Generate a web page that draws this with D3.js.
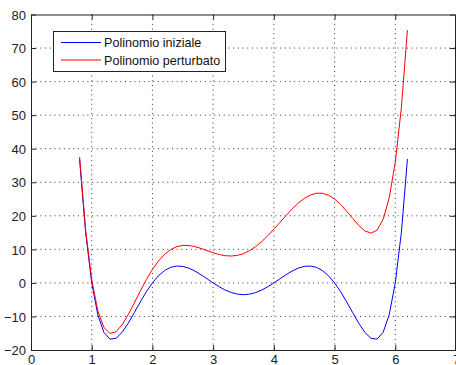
<!DOCTYPE html>
<html>
<head>
<meta charset="utf-8">
<script src="https://cdn.jsdelivr.net/npm/d3@7"></script>
<style>
  html, body { margin: 0; padding: 0; background: #fff; }
  svg { display: block; }
  text { font-family: "Liberation Sans", Arial, sans-serif; }
</style>
</head>
<body>
<svg id="chart" width="456" height="365"></svg>
<script>
// Sample points x = 0.8 : 0.1 : 6.2
const xs = [0.8, 0.9, 1.0, 1.1, 1.2, 1.3, 1.4, 1.5, 1.6, 1.7, 1.8, 1.9, 2.0,
  2.1, 2.2, 2.3, 2.4, 2.5, 2.6, 2.7, 2.8, 2.9, 3.0, 3.1, 3.2, 3.3, 3.4, 3.5,
  3.6, 3.7, 3.8, 3.9, 4.0, 4.1, 4.2, 4.3, 4.4, 4.5, 4.6, 4.7, 4.8, 4.9, 5.0,
  5.1, 5.2, 5.3, 5.4, 5.5, 5.6, 5.7, 5.8, 5.9, 6.0, 6.1, 6.2];

// Initial polynomial values
const initial = [36.90, 14.97, 0, -9.48, -14.71, -16.76, -16.53, -14.77, -12.06,
  -8.91, -5.68, -2.64, 0, 2.13, 3.68, 4.64, 5.03, 4.92, 4.39, 3.52, 2.43, 1.22,
  0, -1.15, -2.13, -2.88, -3.35, -3.52, -3.35, -2.88, -2.13, -1.15, 0, 1.22,
  2.43, 3.52, 4.39, 4.92, 5.03, 4.64, 3.68, 2.13, 0, -2.64, -5.68, -8.91,
  -12.06, -14.77, -16.53, -16.76, -14.71, -9.48, 0, 14.97, 36.90];

// Perturbed polynomial values
const perturbed = [37.54, 15.78, 1.00, -8.27, -13.27, -15.07, -14.57, -12.52,
  -9.50, -6.02, -2.44, 0.97, 4.00, 6.54, 8.52, 9.93, 10.79, 11.17, 11.15, 10.81,
  10.27, 9.63, 9.00, 8.46, 8.11, 8.01, 8.21, 8.73, 9.61, 10.81, 12.31, 14.06,
  16.00, 18.03, 20.07, 22.01, 23.75, 25.17, 26.19, 26.73, 26.72, 26.14, 25.00,
  23.37, 21.36, 19.18, 17.10, 15.48, 14.83, 15.73, 18.93, 25.33, 36.00, 52.18,
  75.34];

const xTicks = [0, 1, 2, 3, 4, 5, 6, 7];
const yTicks = [-20, -10, 0, 10, 20, 30, 40, 50, 60, 70, 80];
const seriesNames = ["Polinomio iniziale", "Polinomio perturbato"];
const seriesColors = ["#0000ff", "#ff0000"];

const svg = d3.select("#chart");
const plotLeft = 31, plotRight = 456, plotTop = 14.5, plotBottom = 350;

const x = d3.scaleLinear().domain([0, 7]).range([plotLeft, plotRight]);
const y = d3.scaleLinear().domain([-20, 80]).range([plotBottom, plotTop]);

// Dotted grid
const grid = svg.append("g");
grid.selectAll("line.gx").data(xTicks.slice(1, -1)).join("line")
  .attr("x1", d => x(d)).attr("x2", d => x(d))
  .attr("y1", plotTop).attr("y2", plotBottom)
  .attr("stroke", "#333").attr("stroke-width", 1)
  .attr("stroke-dasharray", "1,3.7");
grid.selectAll("line.gy").data(yTicks.slice(1, -1)).join("line")
  .attr("x1", plotLeft).attr("x2", plotRight)
  .attr("y1", d => y(d)).attr("y2", d => y(d))
  .attr("stroke", "#333").attr("stroke-width", 1)
  .attr("stroke-dasharray", "1,3.7");

// Axes with inward ticks
const tickLen = 5;
const xAxis = svg.append("g").attr("transform", `translate(0,${plotBottom})`)
  .call(d3.axisBottom(x).tickValues(xTicks).tickFormat(d3.format("d"))
    .tickSizeInner(-tickLen).tickSizeOuter(0).tickPadding(5));
const xAxisTop = svg.append("g").attr("transform", `translate(0,${plotTop})`)
  .call(d3.axisTop(x).tickValues(xTicks).tickFormat("")
    .tickSizeInner(-tickLen).tickSizeOuter(0));
const yAxis = svg.append("g").attr("transform", `translate(${plotLeft},0)`)
  .call(d3.axisLeft(y).tickValues(yTicks).tickFormat(d3.format("d"))
    .tickSizeInner(-tickLen).tickSizeOuter(0).tickPadding(5));
const yAxisRight = svg.append("g").attr("transform", `translate(${plotRight - 1},0)`)
  .call(d3.axisRight(y).tickValues(yTicks).tickFormat("")
    .tickSizeInner(-tickLen).tickSizeOuter(0));

[xAxis, xAxisTop, yAxis, yAxisRight].forEach(g => {
  g.select(".domain").attr("stroke", "#222").attr("stroke-width", 1);
  g.selectAll(".tick line").attr("stroke", "#222");
  g.selectAll(".tick text").attr("fill", "#222")
    .style("font-family", "'Liberation Sans', Arial, sans-serif")
    .style("font-size", "13px");
});
xAxis.selectAll(".tick text").attr("dy", "0.71em");
yAxis.selectAll(".tick text").attr("dy", "0.36em");

// Curves
const line = d3.line().x(d => x(d[0])).y(d => y(d[1]));
[initial, perturbed].forEach((vals, i) => {
  svg.append("path")
    .datum(xs.map((v, j) => [v, vals[j]]))
    .attr("fill", "none")
    .attr("stroke", seriesColors[i])
    .attr("stroke-width", 1)
    .attr("d", line);
});

// Legend
const lg = svg.append("g");
lg.append("rect")
  .attr("x", 53.5).attr("y", 31.5).attr("width", 172).attr("height", 40)
  .attr("fill", "#fff").attr("stroke", "#222").attr("stroke-width", 1);
seriesNames.forEach((name, i) => {
  const ly = 42.5 + i * 17.5;
  lg.append("line")
    .attr("x1", 61).attr("x2", 101).attr("y1", ly).attr("y2", ly)
    .attr("stroke", seriesColors[i]).attr("stroke-width", 1);
  lg.append("text")
    .attr("x", 104).attr("y", ly).attr("dy", "0.36em")
    .attr("fill", "#111")
    .style("font-size", "12.6px")
    .text(name);
});
</script>
</body>
</html>
